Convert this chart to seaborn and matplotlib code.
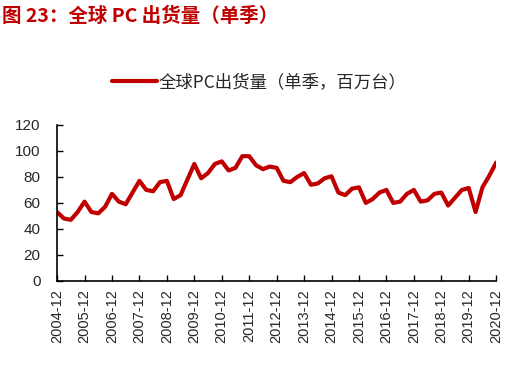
import numpy as np
import pandas as pd
import seaborn as sns
from matplotlib import pyplot as plt

# quarterly global PC shipments (million units), 2004Q4 .. 2020Q4
quarters = [f"{y}Q{q}" for y in range(2004, 2021) for q in range(1, 5)][3:]
shipments = [53,
             48, 47, 53, 61,
             53, 52, 57, 67,
             61, 59, 68, 77,
             70, 69, 76, 77,
             63, 66, 78, 90,
             79, 83, 90, 92,
             85, 87, 96, 96,
             89, 86, 88, 87,
             77, 76, 80, 83,
             74, 75, 79, 80.5,
             68, 66, 71, 72,
             60, 63, 68, 70,
             60, 61, 67, 70,
             61, 62, 67, 68,
             58, 64, 70, 71.5,
             53, 72, 81, 91]
tick_labels = [f"{y}-12" for y in range(2004, 2021)]
y_ticks = [0, 20, 40, 60, 80, 100, 120]

sns.set_style("ticks")
plt.rcParams['font.family'] = ['Liberation Sans', 'Noto Sans CJK SC', 'DejaVu Sans']
RED = '#C00000'

df = pd.DataFrame({'idx': np.arange(len(shipments)), 'val': shipments})

fig = plt.figure(figsize=(5.19, 3.72), dpi=100)
ax = fig.add_axes([0.110, 0.245, 0.846, 0.419])
sns.lineplot(data=df, x='idx', y='val', ax=ax, color=RED, lw=3,
             label='全球PC出货量（单季，百万台）', solid_capstyle='round')

ax.set_xlim(0, len(shipments) - 1)
ax.set_ylim(0, 120)
ax.set_xticks(np.arange(0, len(shipments), 4))
ax.set_xticklabels(tick_labels, rotation=90, fontsize=10.5)
ax.set_yticks(y_ticks)
ax.set_yticklabels([str(v) for v in y_ticks], fontsize=11)
ax.set_xlabel('')
ax.set_ylabel('')
ax.tick_params(direction='in', length=4, width=1, color='black')
ax.tick_params(axis='y', pad=12)
ax.tick_params(axis='x', pad=6)
sns.despine(ax=ax)
for s in ['left', 'bottom']:
    ax.spines[s].set_color('black')
    ax.spines[s].set_linewidth(1.2)

ax.legend(loc='center', bbox_to_anchor=(0.5, 0.78), bbox_transform=fig.transFigure,
          frameon=False, handlelength=2.6, handletextpad=0.1,
          prop={'family': ['Noto Sans CJK SC'], 'size': 12.5})

fig.text(0.004, 0.955, '图 23：全球 PC 出货量（单季）', color=RED, fontsize=14,
         fontweight='bold', family=['Noto Sans CJK SC'], va='center', ha='left')

fig.savefig('out.png', dpi=100)
